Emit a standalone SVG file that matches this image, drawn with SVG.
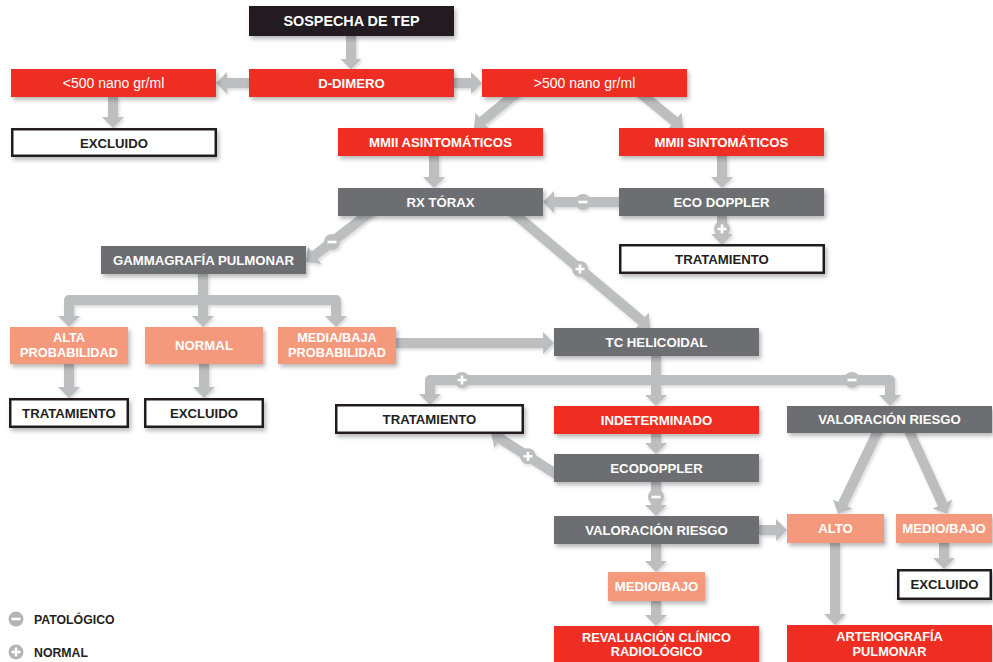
<svg xmlns="http://www.w3.org/2000/svg" width="993" height="662" viewBox="0 0 993 662">
<defs>
<filter id="sh" x="-10%" y="-30%" width="120%" height="170%">
<feDropShadow dx="2" dy="3" stdDeviation="2" flood-color="#000" flood-opacity="0.28"/>
</filter>
<filter id="shl" x="-20%" y="-20%" width="140%" height="140%">
<feDropShadow dx="1.5" dy="2" stdDeviation="1.5" flood-color="#000" flood-opacity="0.15"/>
</filter>
<marker id="arr" markerUnits="userSpaceOnUse" viewBox="0 -11 11 22" markerWidth="11" markerHeight="22" refX="0.5" refY="0" orient="auto">
<path d="M0,-11 L11,0 L0,11 Z" fill="#bcbec0"/>
</marker>
</defs>
<style>
.c{fill:none;stroke:#bcbec0;stroke-width:10;stroke-linejoin:round;marker-end:url(#arr)}
.red{fill:#ee2e24}
.gray{fill:#6d6e71}
.sal{fill:#f4997b}
.blk{fill:#231f20}
.wht{fill:#ffffff;stroke:#231f20;stroke-width:2.5}
.node rect{filter:url(#sh)}
text{font-family:"Liberation Sans",Arial,sans-serif;font-weight:bold;font-size:13.2px;text-anchor:middle;fill:#ffffff}
.dk{fill:#231f20}
.bd{fill:#bcbec0}
.sym{stroke:#ffffff;stroke-width:2.6;fill:none}
.lg{text-anchor:start;font-size:12.3px;fill:#231f20}
.two{font-size:12.8px}
</style>

<g id="connectors" filter="url(#shl)">
<path class="c" d="M351,36 V59"/>
<path class="c" d="M249,83 H226.5"/>
<path class="c" d="M454,83 H471.5"/>
<path class="c" d="M113,97 V117.5"/>
<path class="c" d="M519,91 L482.1,121.3"/>
<path class="c" d="M638.5,91.6 L674.9,121.4"/>
<path class="c" d="M434,156 V177.5"/>
<path class="c" d="M722,156 V177.5"/>
<path class="c" d="M619,202 H553.5"/>
<path class="c" d="M722,216 V234.5"/>
<path class="c" d="M373.5,209.6 L314.3,255.6"/>
<path class="c" d="M508.1,208.5 L642,321.2"/>
<path class="c" d="M203,274 V316.5"/>
<path class="c" d="M203,300 H69 V316.5"/>
<path class="c" d="M203,300 H336 V316.5"/>
<path class="c" d="M69,364 V387.5"/>
<path class="c" d="M204,364 V387.5"/>
<path class="c" d="M396,343 H543.5"/>
<path class="c" d="M656,356 V395.5"/>
<path class="c" d="M656,380 H430 V394.5"/>
<path class="c" d="M656,380 H890 V395.5"/>
<path class="c" d="M656,434 V443.5"/>
<path class="c" d="M559.9,476.4 L499.9,438.6"/>
<path class="c" d="M656,482 V505.5"/>
<path class="c" d="M759,530 H776.5"/>
<path class="c" d="M656,544 V561.5"/>
<path class="c" d="M656,601 V615.5"/>
<path class="c" d="M880,426.7 L842.6,504.5"/>
<path class="c" d="M907.1,426.6 L942.6,504.4"/>
<path class="c" d="M835,543 V614.5"/>
<path class="c" d="M944,543 V558.5"/>
<g id="signs">
<circle class="bd" cx="583" cy="202" r="8"/><path class="sym" d="M578.5,202 H587.5"/>
<circle class="bd" cx="722" cy="229" r="8"/><path class="sym" d="M717.5,229 H726.5 M722,224.5 V233.5"/>
<circle class="bd" cx="332" cy="242" r="8"/><path class="sym" d="M327.5,242 H336.5"/>
<circle class="bd" cx="580" cy="269" r="8"/><path class="sym" d="M575.5,269 H584.5 M580,264.5 V273.5"/>
<circle class="bd" cx="462" cy="380" r="8"/><path class="sym" d="M457.5,380 H466.5 M462,375.5 V384.5"/>
<circle class="bd" cx="852" cy="380" r="8"/><path class="sym" d="M847.5,380 H856.5"/>
<circle class="bd" cx="528" cy="456.3" r="8"/><path class="sym" d="M523.5,456.3 H532.5 M528,451.8 V460.8"/>
<circle class="bd" cx="656" cy="497" r="8"/><path class="sym" d="M651.5,497 H660.5"/>
</g>
</g>

<g id="n_sospecha" class="node"><rect class="blk" x="249" y="6" width="205" height="30"/><text x="351.5" y="26" style="font-size:14.4px">SOSPECHA DE TEP</text></g>
<g id="n_ddimero" class="node"><rect class="red" x="249" y="69" width="205" height="28"/><text x="351.5" y="87.8">D-DIMERO</text></g>
<g id="n_lt500" class="node"><rect class="red" x="11" y="69" width="205" height="28"/><text x="113.5" y="87.8" style="font-weight:normal;font-size:14px">&lt;500 nano gr/ml</text></g>
<g id="n_gt500" class="node"><rect class="red" x="482" y="69" width="205" height="28"/><text x="584.5" y="87.8" style="font-weight:normal;font-size:14px">&gt;500 nano gr/ml</text></g>
<g id="n_excl1" class="node"><rect class="wht" x="12.25" y="129.25" width="203.5" height="26.5"/><text class="dk" x="114" y="147.5">EXCLUIDO</text></g>
<g id="n_asint" class="node"><rect class="red" x="338" y="128" width="205" height="28"/><text x="440.5" y="146.8">MMII ASINTOMÁTICOS</text></g>
<g id="n_sint" class="node"><rect class="red" x="619" y="128" width="205" height="28"/><text x="721.5" y="146.8">MMII SINTOMÁTICOS</text></g>
<g id="n_rx" class="node"><rect class="gray" x="338" y="188" width="205" height="28"/><text x="440.5" y="206.8">RX TÓRAX</text></g>
<g id="n_eco" class="node"><rect class="gray" x="619" y="188" width="205" height="28"/><text x="721.5" y="206.8">ECO DOPPLER</text></g>
<g id="n_trat1" class="node"><rect class="wht" x="620.25" y="245.25" width="203.5" height="27.5"/><text class="dk" x="722" y="264">TRATAMIENTO</text></g>
<g id="n_gamma" class="node"><rect class="gray" x="101" y="246" width="205" height="28"/><text x="203.5" y="264.8">GAMMAGRAFÍA PULMONAR</text></g>
<g id="n_alta" class="node"><rect class="sal" x="10" y="327" width="118" height="37"/><text class="two" x="69" y="342.2">ALTA</text><text class="two" x="69" y="357">PROBABILIDAD</text></g>
<g id="n_normal" class="node"><rect class="sal" x="145" y="327" width="118" height="37"/><text x="204" y="350.3">NORMAL</text></g>
<g id="n_media" class="node"><rect class="sal" x="278" y="327" width="118" height="37"/><text class="two" x="337" y="342.2">MEDIA/BAJA</text><text class="two" x="337" y="357">PROBABILIDAD</text></g>
<g id="n_trat2" class="node"><rect class="wht" x="10.25" y="399.25" width="117.5" height="27.5"/><text class="dk" x="69" y="417.8">TRATAMIENTO</text></g>
<g id="n_excl2" class="node"><rect class="wht" x="145.25" y="399.25" width="117.5" height="27.5"/><text class="dk" x="204" y="418.3">EXCLUIDO</text></g>
<g id="n_tc" class="node"><rect class="gray" x="554" y="328" width="205" height="28"/><text x="656.5" y="346.8">TC HELICOIDAL</text></g>
<g id="n_trat3" class="node"><rect class="wht" x="336.25" y="405.25" width="186.5" height="27.5"/><text class="dk" x="429.5" y="424">TRATAMIENTO</text></g>
<g id="n_indet" class="node"><rect class="red" x="554" y="406" width="205" height="28"/><text x="656.5" y="424.8">INDETERMINADO</text></g>
<g id="n_ecod" class="node"><rect class="gray" x="554" y="454" width="205" height="28"/><text x="656.5" y="472.8">ECODOPPLER</text></g>
<g id="n_vr1" class="node"><rect class="gray" x="554" y="516" width="205" height="28"/><text x="656.5" y="534.8">VALORACIÓN RIESGO</text></g>
<g id="n_mb1" class="node"><rect class="sal" x="608" y="572" width="97" height="29"/><text x="656.5" y="591.3">MEDIO/BAJO</text></g>
<g id="n_reval" class="node"><rect class="red" x="554" y="626" width="205" height="38"/><text class="two" x="656.5" y="641.6">REVALUACIÓN CLÍNICO</text><text class="two" x="656.5" y="656.4">RADIOLÓGICO</text></g>
<g id="n_vr2" class="node"><rect class="gray" x="787" y="406" width="205" height="27"/><text x="889.5" y="424.3">VALORACIÓN RIESGO</text></g>
<g id="n_alto" class="node"><rect class="sal" x="787" y="514" width="97" height="29"/><text x="835.5" y="533.3">ALTO</text></g>
<g id="n_mb2" class="node"><rect class="sal" x="896" y="514" width="96" height="29"/><text x="944" y="533.3">MEDIO/BAJO</text></g>
<g id="n_excl3" class="node"><rect class="wht" x="898.25" y="570.25" width="92.5" height="28.5"/><text class="dk" x="944.5" y="589.3">EXCLUIDO</text></g>
<g id="n_arter" class="node"><rect class="red" x="787" y="625" width="205" height="39"/><text class="two" x="889.5" y="641.2">ARTERIOGRAFÍA</text><text class="two" x="889.5" y="656">PULMONAR</text></g>

<g id="legend">
<circle cx="16" cy="619" r="7.5" fill="#b3b4b6"/><path class="sym" d="M11.5,619 H20.5"/>
<text class="lg" x="34" y="623.5">PATOLÓGICO</text>
<circle cx="16" cy="652" r="7.5" fill="#b3b4b6"/><path class="sym" d="M11.5,652 H20.5 M16,647.5 V656.5"/>
<text class="lg" x="34" y="656.5">NORMAL</text>
</g>
</svg>
